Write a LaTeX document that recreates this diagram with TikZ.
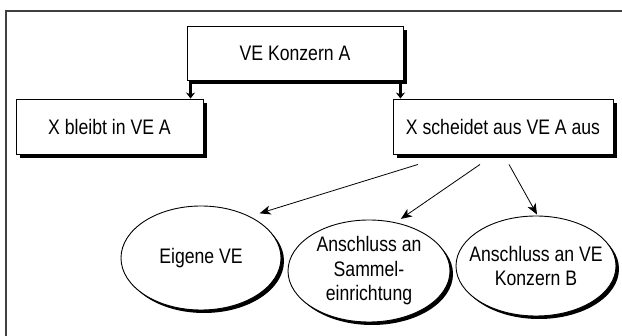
\documentclass[tikz,border=0pt]{standalone}
\usepackage{fontspec}
\setmainfont{Liberation Sans}[FakeStretch=0.84]
\usetikzlibrary{shapes.geometric,shadows,arrows.meta}
\begin{document}
\begin{tikzpicture}[x=1pt,y=-1pt,
  every node/.style={font=\fontsize{21}{24.5}\selectfont, text=black},
  rbox/.style={draw=black, line width=0.9pt, fill=white, rectangle, inner sep=0pt,
    drop shadow={shadow xshift=4pt, shadow yshift=-4pt, fill=black, opacity=1}},
  ell/.style={draw=black, line width=0.9pt, fill=white, ellipse, inner sep=-14pt,
    minimum width=160pt, minimum height=104pt, align=center,
    drop shadow={shadow xshift=3pt, shadow yshift=-3pt, fill=black, opacity=1}},
  thickarr/.style={line width=2.6pt, -{Stealth[length=6pt,width=9pt]}},
  thinarr/.style={line width=0.8pt, -{Stealth[length=11pt,width=9pt,inset=3pt]}}
]
\useasboundingbox (0,0) rectangle (622,336);
\draw[line width=1.4pt, draw=black!75] (6,340) -- (6,11) -- (626,11);

\node[rbox, minimum width=216pt, minimum height=54pt] (ve) at (295,53) {VE Konzern A};
\node[rbox, minimum width=187pt, minimum height=55pt] (bleibt) at (109.5,126.5) {X bleibt in VE A};
\node[rbox, minimum width=220pt, minimum height=55pt] (aus) at (503,126.5) {X scheidet aus VE A aus};

\node[ell] (e1) at (201,258) {Eigene VE};
\node[ell, minimum width=162pt, minimum height=102pt] (e2) at (369,271) {Anschluss an\\Sammel-\\einrichtung};
\node[ell, minimum height=100pt] (e3) at (536,266) {Anschluss an VE\\Konzern B};

\draw[thickarr] ([xshift=4pt]ve.south west) -- ([xshift=4pt]ve.south west |- bleibt.north);
\draw[thickarr] ([xshift=-3pt]ve.south east) -- ([xshift=-3pt]ve.south east |- aus.north);

\coordinate (s1) at ([xshift=-85pt,yshift=-10pt]aus.south);
\coordinate (s2) at ([xshift=-23pt,yshift=-10pt]aus.south);
\coordinate (s3) at ([xshift=6pt,yshift=-10pt]aus.south);
\draw[thinarr] (s1) -- ([xshift=6pt,yshift=5pt]e1.37);
\draw[thinarr] (s2) -- ([xshift=3pt,yshift=4pt]e2.59);
\draw[thinarr] (s3) -- ([xshift=1pt,yshift=1pt]e3.north);
\end{tikzpicture}
\end{document}
